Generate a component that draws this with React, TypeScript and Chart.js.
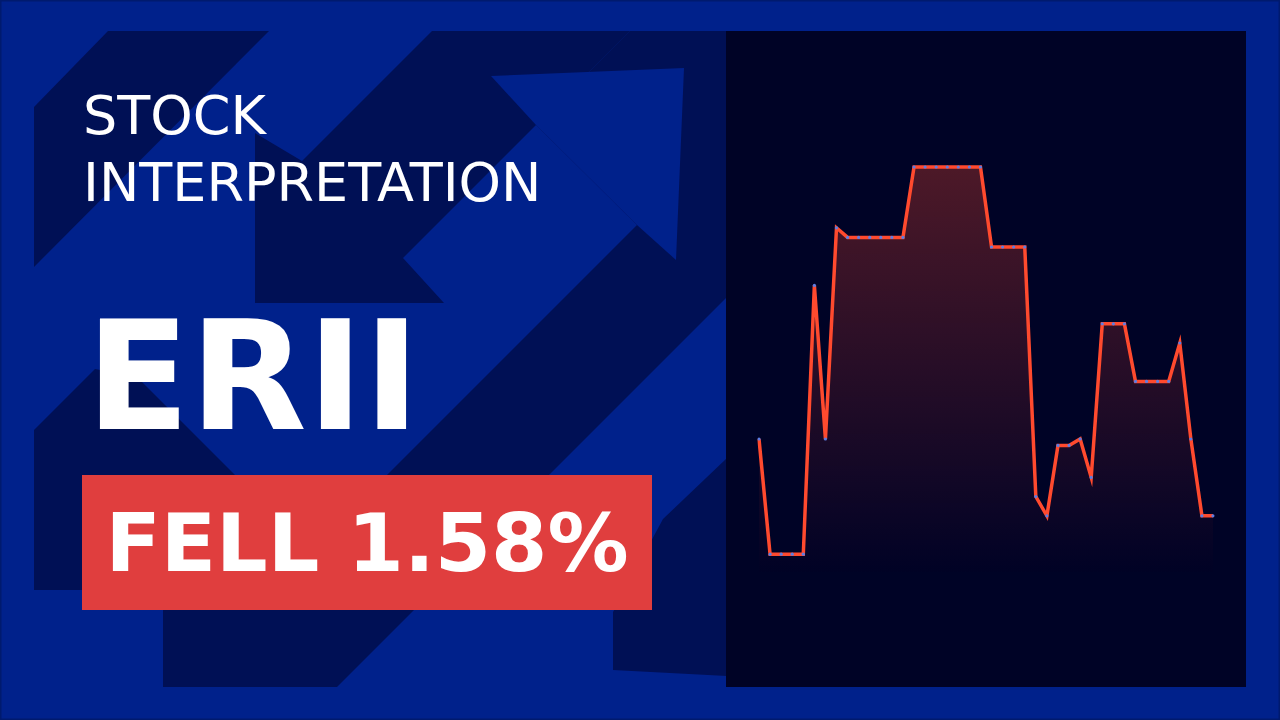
import React, { useEffect, useRef } from "react";
import { Chart, registerables } from "chart.js";

Chart.register(...registerables);

const dayLabels = [
  "1", "2", "3", "4", "5", "6", "7", "8", "9", "10", "11", "12", "13", "14",
  "15", "16", "17", "18", "19", "20", "21", "22", "23", "24", "25", "26", "27", "28",
  "29", "30", "31", "32", "33", "34", "35", "36", "37", "38", "39", "40", "41", "42",
];

const closePrices = [
  15.19, 14.83, 14.83, 14.83, 14.83, 15.67, 15.19, 15.85, 15.82, 15.82, 15.82, 15.82, 15.82, 15.82,
  16.04, 16.04, 16.04, 16.04, 16.04, 16.04, 16.04, 15.79, 15.79, 15.79, 15.79, 15.01, 14.95, 15.17,
  15.17, 15.19, 15.07, 15.55, 15.55, 15.55, 15.37, 15.37, 15.37, 15.37, 15.49, 15.19, 14.95, 14.95,
];

const priceAxisMin = 14.42;
const priceAxisMax = 16.46;

const tickerText = "ERII";
const titleLines = ["STOCK", "INTERPRETATION"];
const changeText = "FELL 1.58%";

const BLUE = "#00218b";
const DARK = "#001055";

function Background() {
  return (
    <svg
      width={1280}
      height={720}
      style={{ position: "absolute", left: 0, top: 0 }}
    >
      <rect x={0} y={0} width={1280} height={720} fill={BLUE} />
      <defs>
        <clipPath id="artclip">
          <rect x={34} y={31} width={693} height={656} />
        </clipPath>
      </defs>
      <g clipPath="url(#artclip)" fill={DARK}>
        <polygon points="34,107 108,31 269,31 34,267" />
        <polygon points="630,31 727,31 727,297 337,687 163,687 163,560 302,560 637,225 536,125" />
        <polygon points="432,31 630,31 403,258 444,303 255,303 255,133 302,161" />
        <polygon points="34,430 95,369 137,377 250,490 250,590 34,590" />
        <polygon points="727,458 663,519 613,612 613,670 727,676" />
      </g>
      <g clipPath="url(#artclip)" fill={BLUE}>
        <polygon points="491,76 684,68 676,260 637,225 536,125" />
      </g>
      <rect
        x={0.5}
        y={0.5}
        width={1279}
        height={719}
        fill="none"
        stroke="#001a6e"
        strokeWidth={2}
      />
    </svg>
  );
}

function PriceChart() {
  const canvasRef = useRef<HTMLCanvasElement | null>(null);

  useEffect(() => {
    if (!canvasRef.current) return;
    const chart = new Chart(canvasRef.current, {
      type: "line",
      data: {
        labels: dayLabels,
        datasets: [
          {
            data: closePrices,
            borderColor: "#ff4a2e",
            borderWidth: 3.5,
            pointRadius: 1.6,
            pointBackgroundColor: "#5d7de3",
            pointBorderWidth: 0,
            pointHoverRadius: 0,
            tension: 0,
            fill: "start",
            backgroundColor: (ctx: any) => {
              const c = ctx.chart;
              const area = c.chartArea;
              const ys = c.scales && c.scales.y;
              if (!area || !ys) return "rgba(255,75,45,0.2)";
              const top = ys.getPixelForValue(Math.max(...closePrices));
              const bottom = ys.getPixelForValue(Math.min(...closePrices)) + 20;
              const g = c.ctx.createLinearGradient(0, top, 0, bottom);
              g.addColorStop(0, "rgba(255,75,45,0.30)");
              g.addColorStop(1, "rgba(255,75,45,0.0)");
              return g;
            },
          },
        ],
      },
      options: {
        animation: false,
        responsive: false,
        devicePixelRatio: 1,
        layout: { padding: { left: 33, right: 33, top: 0, bottom: 0 } },
        plugins: {
          legend: { display: false },
          tooltip: { enabled: false },
        },
        scales: {
          x: { display: false, offset: false },
          y: { display: false, min: priceAxisMin, max: priceAxisMax },
        },
      },
    });
    return () => chart.destroy();
  }, []);

  return <canvas ref={canvasRef} width={520} height={656} style={{ display: "block" }} />;
}

export default function App() {
  const font = "'DejaVu Sans', sans-serif";
  return (
    <div
      style={{
        position: "fixed",
        left: 0,
        top: 0,
        width: 1280,
        height: 720,
        overflow: "hidden",
        fontFamily: font,
      }}
    >
      <Background />
      <div
        style={{
          position: "absolute",
          left: 83,
          top: 82,
          color: "#ffffff",
          fontSize: 54,
          lineHeight: "67px",
          whiteSpace: "nowrap",
        }}
      >
        {titleLines.map((t) => (
          <div key={t}>{t}</div>
        ))}
      </div>
      <div
        style={{
          position: "absolute",
          left: 86,
          top: 301,
          color: "#ffffff",
          fontSize: 152,
          fontWeight: "bold",
          lineHeight: "152px",
          whiteSpace: "nowrap",
        }}
      >
        {tickerText}
      </div>
      <div
        style={{
          position: "absolute",
          left: 82,
          top: 475,
          width: 570,
          height: 135,
          background: "#e03e3e",
          display: "flex",
          alignItems: "center",
          justifyContent: "center",
          color: "#ffffff",
          fontSize: 81,
          fontWeight: "bold",
          whiteSpace: "nowrap",
        }}
      >
        {changeText}
      </div>
      <div
        style={{
          position: "absolute",
          left: 726,
          top: 31,
          width: 520,
          height: 656,
          background: "#000326",
        }}
      >
        <PriceChart />
      </div>
    </div>
  );
}
